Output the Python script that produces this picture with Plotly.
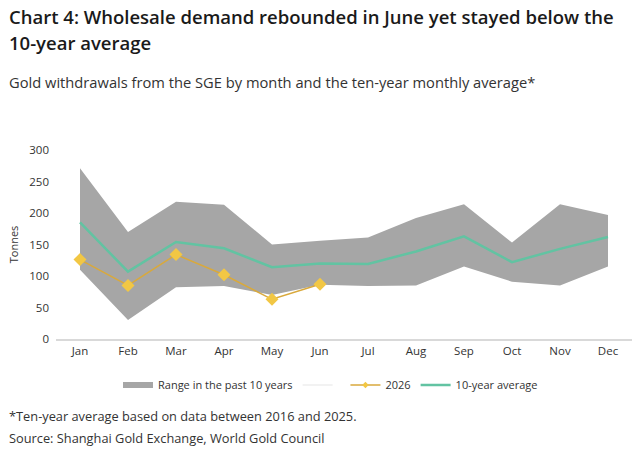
import plotly.graph_objects as go

months = ["Jan", "Feb", "Mar", "Apr", "May", "Jun", "Jul", "Aug", "Sep", "Oct", "Nov", "Dec"]
range_low = [110, 30, 82, 84, 70, 86, 84, 85, 115, 91, 85, 115]
range_high = [271, 170, 218, 213, 150, 156, 161, 192, 214, 153, 214, 197]
avg_10y = [185, 107, 154, 144, 114, 120, 119, 139, 163, 122, 143, 162]
months_2026 = ["Jan", "Feb", "Mar", "Apr", "May", "Jun"]
vals_2026 = [126, 85, 134, 102, 63, 87]

FONT = "Open Sans"
GRAY = "#a6a6a6"
TEAL = "#62c3a2"
GOLD_LINE = "#d9a93c"
GOLD_MK = "#f2c744"

fig = go.Figure()
fig.add_trace(go.Scatter(x=months, y=range_low, mode="lines", line=dict(width=0, color="rgba(0,0,0,0)"),
                         showlegend=False, hoverinfo="skip"))
fig.add_trace(go.Scatter(x=months, y=range_high, mode="none", fill="tonexty", fillcolor=GRAY,
                         name="Range in the past 10 years"))
fig.add_trace(go.Scatter(x=[None], y=[None], mode="lines", line=dict(color="#f2f2f2", width=2),
                         name=" "))
fig.add_trace(go.Scatter(x=months_2026, y=vals_2026, mode="lines+markers", name="2026",
                         line=dict(color=GOLD_LINE, width=1.5), showlegend=False,
                         marker=dict(symbol="diamond", size=10, color=GOLD_MK)))
fig.add_trace(go.Scatter(x=[None], y=[None], mode="lines+markers", name="2026",
                         line=dict(color=GOLD_LINE, width=1.5),
                         marker=dict(symbol="diamond", size=5, color=GOLD_MK)))
fig.add_trace(go.Scatter(x=months, y=avg_10y, mode="lines", name="10-year average",
                         line=dict(color=TEAL, width=2.5)))

L, R, T, B = 56, 8, 150, 113
W = 640 - L - R
H = 452 - T - B

def px(xp):
    return (xp - L) / W

def py(yp):
    return (452 - B - yp) / H

ann = [
    dict(text="Chart 4: Wholesale demand rebounded in June yet stayed below the", x=px(7), y=py(16),
         size=18.5, weight=600, color="#1a1a1a"),
    dict(text="10-year average", x=px(7), y=py(42), size=18.5, weight=600, color="#1a1a1a"),
    dict(text="Gold withdrawals from the SGE by month and the ten-year monthly average*", x=px(7), y=py(82),
         size=14.7, weight=400, color="#333333"),
    dict(text="*Ten-year average based on data between 2016 and 2025.", x=px(7), y=py(416),
         size=12.8, weight=400, color="#333333"),
    dict(text="Source: Shanghai Gold Exchange, World Gold Council", x=px(7), y=py(438),
         size=12.8, weight=400, color="#333333"),
]
annotations = [dict(text=a["text"], x=a["x"], y=a["y"], xref="paper", yref="paper", xanchor="left",
                    yanchor="middle", showarrow=False,
                    font=dict(family=FONT, size=a["size"], weight=a["weight"], color=a["color"]))
               for a in ann]

fig.update_layout(
    width=640, height=452,
    margin=dict(l=L, r=R, t=T, b=B),
    paper_bgcolor="white", plot_bgcolor="white",
    font=dict(family=FONT, size=11, color="#333333"),
    annotations=annotations,
    legend=dict(orientation="h", x=px(118), y=py(385), xanchor="left", yanchor="middle",
                font=dict(family=FONT, size=11, color="#333333"), traceorder="normal",
                itemwidth=30),
    xaxis=dict(range=[-0.5, 11.5], showgrid=False, showline=True, linecolor="#d9d9d9", linewidth=1.5,
               ticks="", tickfont=dict(size=11.5, color="#333333"), fixedrange=True),
    yaxis=dict(range=[0, 300], showgrid=False, zeroline=False, showline=False, dtick=50,
               tickfont=dict(size=11.5, color="#333333"), ticks="", ticklabelstandoff=6,
               title=dict(text="Tonnes", font=dict(size=11, color="#333333"), standoff=8)),
    showlegend=True,
)

fig.write_html("out.html")
